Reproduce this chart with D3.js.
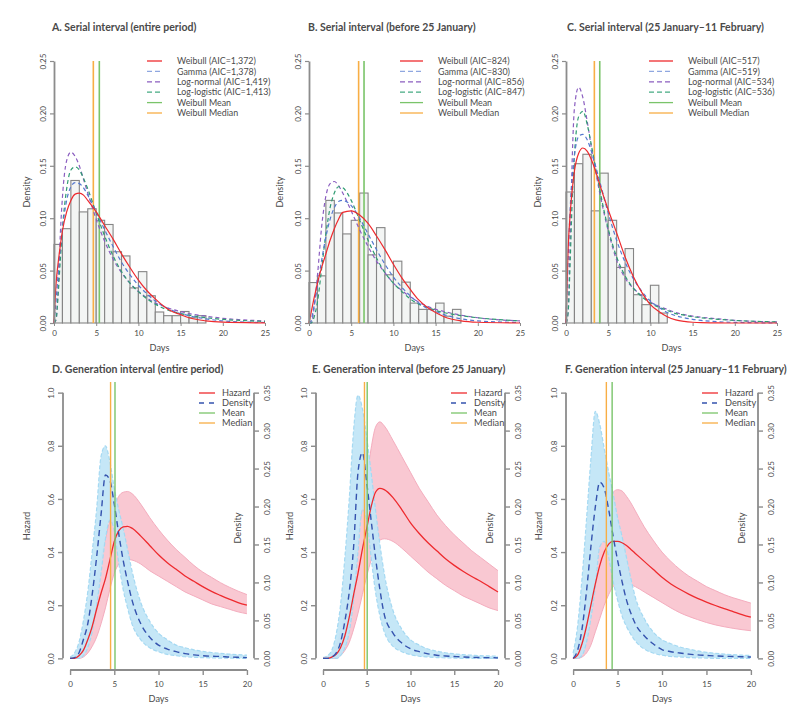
<!DOCTYPE html>
<html><head><meta charset="utf-8">
<script src="https://cdn.jsdelivr.net/npm/d3@7"></script>
<style>
body{margin:0;background:#fff}
text{font-family:Lato,"Open Sans",sans-serif;fill:#4a4a4a}
</style></head>
<body><svg id="c" width="798" height="714"></svg>
<script>
// ---------- DATA ----------
const topTitles = ["A. Serial interval (entire period)", "B. Serial interval (before 25 January)", "C. Serial interval (25 January\u201311 February)"];
const botTitles = ["D. Generation interval (entire period)", "E. Generation interval (before 25 January)", "F. Generation interval (25 January\u201311 February)"];
const topXTicks = [0,5,10,15,20,25];
const topYTicks = [0,0.05,0.10,0.15,0.20,0.25];
const botXTicks = [0,5,10,15,20];
const hazTicks = [0,0.2,0.4,0.6,0.8,1.0];
const densTicks = [0,0.05,0.10,0.15,0.20,0.25,0.30,0.35];
const distNames = ["Weibull","Gamma","Log-normal","Log-logistic"];

// histograms (1-day bins starting at 0)
const histA = [0.075,0.090,0.136,0.106,0.109,0.098,0.094,0.068,0.064,0.0335,0.049,0.026,0.0105,0.007,0.007,0.011,0.005,0.007];
const histB = [0.0386,0.045,0.117,0.105,0.085,0.098,0.124,0.065,0.091,0.046,0.059,0.039,0.019,0.013,0.013,0.019,0.0065,0.013];
const histC = [0.125,0.152,0.161,0.107,0.143,0.098,0.053,0.071,0.027,0.0175,0.036,0.0095];

const aicA = ["1,372","1,378","1,419","1,413"];
const aicB = ["824","830","856","847"];
const aicC = ["517","519","534","536"];

const topDays = [0,0.25,0.5,0.75,1,1.5,2,2.5,3,3.5,4,5,6,7,8,9,10,11,12,13,14,15,16,18,20,25];
const weibullA = [0,0.038,0.058,0.074,0.088,0.106,0.117,0.123,0.124,0.122,0.117,0.106,0.093,0.080,0.066,0.053,0.041,0.031,0.023,0.016,0.011,0.008,0.005,0.002,0.0008,0.0001];
const gammaA   = [0,0.022,0.048,0.071,0.090,0.117,0.130,0.134,0.133,0.129,0.122,0.106,0.089,0.073,0.058,0.046,0.036,0.028,0.021,0.016,0.012,0.009,0.007,0.004,0.002,0.0005];
const lnormA   = [0,0.003,0.035,0.085,0.120,0.155,0.163,0.159,0.150,0.137,0.124,0.099,0.078,0.061,0.048,0.038,0.030,0.024,0.019,0.016,0.013,0.011,0.009,0.0065,0.0045,0.002];
const llogA    = [0,0.004,0.028,0.060,0.090,0.128,0.146,0.149,0.146,0.138,0.128,0.105,0.083,0.064,0.049,0.038,0.030,0.023,0.018,0.014,0.011,0.009,0.0075,0.005,0.0035,0.0015];
const weibullB = [0,0.010,0.020,0.029,0.038,0.053,0.066,0.079,0.090,0.099,0.1055,0.107,0.103,0.095,0.083,0.070,0.056,0.043,0.032,0.022,0.015,0.010,0.006,0.002,0.0007,0];
const gammaB   = [0,0.002,0.012,0.023,0.035,0.060,0.082,0.099,0.110,0.116,0.117,0.112,0.100,0.085,0.070,0.056,0.044,0.034,0.026,0.019,0.014,0.011,0.008,0.004,0.002,0.0005];
const lnormB   = [0,0,0.008,0.025,0.045,0.092,0.121,0.133,0.135,0.131,0.124,0.107,0.089,0.073,0.059,0.048,0.038,0.031,0.025,0.020,0.016,0.013,0.011,0.0075,0.005,0.002];
const llogB    = [0,0,0.003,0.010,0.020,0.052,0.085,0.110,0.124,0.130,0.129,0.117,0.098,0.079,0.062,0.048,0.038,0.030,0.023,0.018,0.015,0.012,0.010,0.007,0.005,0.002];
const weibullC = [0,0.07,0.105,0.128,0.145,0.162,0.167,0.164,0.156,0.145,0.132,0.108,0.086,0.063,0.044,0.029,0.0175,0.011,0.006,0.003,0.0015,0.0007,0.0003,0.0001,0,0];
const gammaC   = [0,0.06,0.11,0.140,0.160,0.178,0.180,0.175,0.164,0.150,0.135,0.105,0.079,0.058,0.042,0.030,0.021,0.015,0.010,0.007,0.005,0.0035,0.0025,0.0012,0.0006,0.0001];
const lnormC   = [0,0.01,0.08,0.16,0.205,0.225,0.215,0.193,0.168,0.145,0.124,0.088,0.060,0.043,0.033,0.026,0.020,0.016,0.013,0.010,0.008,0.0065,0.0055,0.004,0.0025,0.001];
const llogC    = [0,0.01,0.06,0.12,0.160,0.197,0.202,0.190,0.170,0.148,0.127,0.090,0.063,0.045,0.033,0.025,0.019,0.015,0.012,0.009,0.0075,0.006,0.005,0.0035,0.0025,0.001];

// Weibull mean / median (days)
const siMean   = [5.37, 6.52, 4.00];
const siMedian = [4.66, 5.88, 3.36];
const giMean   = [5.08, 5.05, 4.39];
const giMedian = [4.58, 4.74, 3.74];

const botDays = [0,0.5,1,1.5,2,2.5,3,3.5,4,4.5,5,5.5,6,6.5,7,8,9,10,11,12,13,14,15,16,17,18,19,20];
const hazD   = [0,0,0.01,0.03,0.07,0.12,0.185,0.245,0.30,0.37,0.44,0.48,0.495,0.497,0.49,0.46,0.425,0.39,0.36,0.335,0.31,0.29,0.27,0.252,0.237,0.223,0.21,0.20];
const hazDhi = [0,0.005,0.04,0.09,0.15,0.22,0.30,0.38,0.45,0.52,0.57,0.61,0.625,0.628,0.62,0.58,0.53,0.485,0.445,0.41,0.38,0.35,0.325,0.305,0.285,0.268,0.253,0.24];
const hazDlo = [0,0,0,0.005,0.02,0.045,0.08,0.13,0.19,0.26,0.32,0.355,0.37,0.372,0.37,0.355,0.33,0.31,0.29,0.27,0.25,0.235,0.22,0.205,0.195,0.185,0.175,0.168];
const denD   = [0,0.001,0.007,0.0245,0.0455,0.084,0.133,0.189,0.2415,0.2345,0.203,0.1645,0.1295,0.1015,0.077,0.0455,0.028,0.0175,0.0123,0.0088,0.0063,0.0046,0.0035,0.0028,0.0025,0.0018,0.0014,0.001];
const denDhi = [0.0018,0.007,0.021,0.049,0.0875,0.14,0.196,0.266,0.28,0.259,0.224,0.196,0.1715,0.1435,0.1155,0.0735,0.049,0.0333,0.0245,0.0175,0.014,0.0112,0.0091,0.0077,0.0067,0.0056,0.0049,0.0042];
const denDlo = [0,0,0,0.0035,0.014,0.035,0.07,0.112,0.1575,0.182,0.168,0.126,0.091,0.0665,0.0455,0.0245,0.014,0.0088,0.0053,0.0035,0.0021,0.0014,0.001,0.0007,0.0004,0.0004,0,0];

const hazE   = [0,0,0.005,0.015,0.04,0.085,0.155,0.24,0.32,0.41,0.49,0.57,0.625,0.64,0.635,0.605,0.56,0.51,0.47,0.435,0.405,0.375,0.35,0.328,0.308,0.29,0.27,0.25];
const hazEhi = [0,0.003,0.02,0.05,0.10,0.17,0.26,0.36,0.46,0.57,0.68,0.79,0.87,0.89,0.875,0.82,0.76,0.70,0.64,0.59,0.54,0.50,0.465,0.435,0.405,0.38,0.355,0.33];
const hazElo = [0,0,0,0,0.01,0.03,0.06,0.11,0.17,0.24,0.31,0.37,0.42,0.445,0.45,0.44,0.415,0.385,0.355,0.325,0.30,0.275,0.255,0.235,0.22,0.205,0.19,0.18];
const denE   = [0,0,0.0018,0.007,0.021,0.049,0.0875,0.147,0.245,0.271,0.231,0.182,0.133,0.091,0.058,0.0333,0.0203,0.0126,0.0088,0.006,0.0042,0.0032,0.0025,0.0018,0.0014,0.0011,0.0009,0.0007];
const denEhi = [0.0011,0.0035,0.0105,0.0315,0.07,0.133,0.21,0.301,0.3465,0.329,0.2905,0.245,0.196,0.1505,0.112,0.063,0.0385,0.0245,0.0175,0.0123,0.0095,0.0074,0.006,0.0049,0.0042,0.0035,0.0032,0.0028];
const denElo = [0,0,0,0,0.0035,0.014,0.035,0.077,0.14,0.196,0.182,0.133,0.0875,0.056,0.035,0.0158,0.0088,0.0049,0.0028,0.0018,0.0011,0.0007,0.0004,0,0,0,0,0];

const hazF   = [0,0.012,0.055,0.12,0.2,0.28,0.35,0.40,0.43,0.44,0.44,0.435,0.425,0.41,0.395,0.365,0.335,0.305,0.28,0.26,0.242,0.226,0.212,0.199,0.187,0.176,0.165,0.155];
const hazFhi = [0,0.04,0.13,0.25,0.36,0.45,0.52,0.57,0.60,0.625,0.635,0.63,0.61,0.585,0.555,0.495,0.445,0.40,0.365,0.335,0.31,0.29,0.27,0.255,0.24,0.228,0.218,0.208];
const hazFlo = [0,0,0.005,0.02,0.05,0.1,0.15,0.2,0.24,0.27,0.28,0.285,0.283,0.277,0.27,0.25,0.23,0.21,0.19,0.172,0.158,0.146,0.135,0.126,0.119,0.113,0.108,0.104];
const denF   = [0,0.0105,0.0385,0.0875,0.147,0.1995,0.232,0.224,0.196,0.161,0.1295,0.1015,0.077,0.0595,0.0455,0.0298,0.0193,0.0116,0.0088,0.007,0.0056,0.0046,0.0039,0.0032,0.0028,0.0025,0.0021,0.0018];
const denFhi = [0.007,0.042,0.105,0.182,0.2625,0.3255,0.308,0.2765,0.245,0.217,0.1855,0.161,0.133,0.105,0.0805,0.0525,0.035,0.0245,0.0193,0.015,0.0123,0.0098,0.008,0.0067,0.0056,0.0049,0.0042,0.0039];
const denFlo = [0,0,0.0035,0.021,0.0525,0.0945,0.147,0.154,0.133,0.1015,0.077,0.056,0.042,0.0315,0.0228,0.0123,0.007,0.0042,0.0025,0.0018,0.0011,0.0007,0.0004,0,0,0,0,0];

// ---------- STYLE ----------
const FONT = "Lato,'Open Sans',sans-serif";
const TICK_FS = "8px", LAB_FS = "9.2px", TOPLEG_FS = "8.9px", BOTLEG_FS = "9.2px", TITLE_FS = "10.5px";
const C = {red:"#ee2a2e", gamma:"#5578cf", lnorm:"#8b5ec0", llog:"#2f9c72", mean:"#7ac46a", median:"#f8ae45",
  axis:"#8c8c8c", barFill:"#f3f5f4", barStroke:"#858585", pink:"#f9c8d2", pinkLine:"#f4adbe",
  blue:"#c2e6f7", blueLine:"#a5d9f2", dens:"#3553ae"};

const svg = d3.select("#c");

function legend(g, items, L, y0, step, fs){
  items.forEach((it,i)=>{
    const yy = y0 + i*step;
    g.append("line").attr("x1",L.x0).attr("x2",L.x1).attr("y1",yy).attr("y2",yy)
      .attr("stroke",it.c).attr("stroke-width",1.3).attr("stroke-dasharray",it.d);
  });
  const t = g.append("text").style("font-size",fs);
  items.forEach((it,i)=>{
    t.append("tspan").attr("x",L.tx).attr("y",y0 + i*step + 3.2).text(it.t);
  });
}

// ---------- TOP PANELS ----------
const topLayout = [
  {left:54,  title:[52,31], ylab:27,  leg:{x0:147,x1:162,tx:177}},
  {left:309, title:[308,31], ylab:280, leg:{x0:400,x1:423,tx:438}},
  {left:566, title:[567,31], ylab:538, leg:{x0:649,x1:673,tx:688}}
];
const topData = [
  {hist:histA, curves:[weibullA,gammaA,lnormA,llogA], aic:aicA},
  {hist:histB, curves:[weibullB,gammaB,lnormB,llogB], aic:aicB},
  {hist:histC, curves:[weibullC,gammaC,lnormC,llogC], aic:aicC}
];
const topW = 211, topTop = 61, topBot = 323;

topData.forEach((pd, k) => {
  const L = topLayout[k];
  const g = svg.append("g");
  const x = d3.scaleLinear().domain([0,25]).range([L.left, L.left+topW]);
  const y = d3.scaleLinear().domain([0,0.25]).range([topBot, topTop]);

  g.selectAll("rect.bar").data(pd.hist).join("rect")
    .attr("x", (d,i)=>x(i)).attr("width", x(1)-x(0))
    .attr("y", d=>y(d)).attr("height", d=>y(0)-y(d))
    .attr("fill", C.barFill).attr("stroke", C.barStroke).attr("stroke-width", 1.1);

  [[siMedian[k], C.median],[siMean[k], C.mean]].forEach(([v,col])=>{
    g.append("line").attr("x1",x(v)).attr("x2",x(v)).attr("y1",y(0)).attr("y2",y(0.25))
      .attr("stroke",col).attr("stroke-width",1.6);
  });

  const line = d3.line().x((d,i)=>x(topDays[i])).y(d=>y(d)).curve(d3.curveMonotoneX);
  const styles = [
    {c:C.red, dash:null},
    {c:C.gamma, dash:"4,3"},
    {c:C.lnorm, dash:"4,3"},
    {c:C.llog, dash:"4,3"}
  ];
  [2,3,1,0].forEach(j=>{
    g.append("path").attr("d", line(pd.curves[j])).attr("fill","none")
      .attr("stroke", styles[j].c).attr("stroke-width", 1.2)
      .attr("stroke-dasharray", styles[j].dash);
  });

  const ya = g.append("g").attr("transform",`translate(${L.left},0)`)
    .call(d3.axisLeft(y).tickValues(topYTicks).tickFormat(d3.format(".2f")).tickSize(4).tickSizeOuter(0));
  ya.select(".domain").attr("stroke",C.axis).attr("stroke-width",1.8);
  ya.selectAll(".tick line").attr("stroke",C.axis).attr("stroke-width",1.2);
  ya.selectAll(".tick text").attr("transform","rotate(-90)").attr("x",0).attr("y",-8).attr("dy",0)
    .attr("text-anchor","middle").style("font-size",TICK_FS).style("font-family",FONT).attr("fill","#4a4a4a");

  const xa = g.append("g").attr("transform",`translate(0,${topBot})`)
    .call(d3.axisBottom(x).tickValues(topXTicks).tickSize(3).tickSizeOuter(0).tickPadding(4));
  xa.select(".domain").remove();
  xa.selectAll(".tick line").attr("stroke",C.axis).attr("stroke-width",1);
  xa.selectAll(".tick text").style("font-size",TICK_FS).style("font-family",FONT).attr("fill","#4a4a4a");

  g.append("text").attr("x", (x(0)+x(25))/2).attr("y", 351).attr("text-anchor","middle").style("font-size",LAB_FS).text("Days");
  g.append("text").attr("transform",`translate(${L.ylab+3},${(topTop+topBot)/2}) rotate(-90)`).attr("text-anchor","middle").style("font-size",LAB_FS).text("Density");
  g.append("text").attr("x", L.title[0]).attr("y", L.title[1]).style("font-size",TITLE_FS).style("font-weight","bold").text(topTitles[k]);

  legend(g, [
    {t:`${distNames[0]} (AIC=${pd.aic[0]})`, c:C.red, d:null},
    {t:`${distNames[1]} (AIC=${pd.aic[1]})`, c:"#8fa7e0", d:"5,3"},
    {t:`${distNames[2]} (AIC=${pd.aic[2]})`, c:C.lnorm, d:"5,3"},
    {t:`${distNames[3]} (AIC=${pd.aic[3]})`, c:"#45ab82", d:"5,3"},
    {t:"Weibull Mean", c:C.mean, d:null},
    {t:"Weibull Median", c:C.median, d:null}
  ], L.leg, 61, 10.4, TOPLEG_FS);
});

// ---------- BOTTOM PANELS ----------
const botLayout = [
  {left:63,  w:191, title:52,  hz:27,  dn:238, leg:{x0:199,x1:215,tx:222}},
  {left:316, w:189, title:312, hz:290, dn:490, leg:{x0:451,x1:467,tx:474}},
  {left:566, w:192, title:565, hz:539, dn:742, leg:{x0:702,x1:718,tx:725}}
];
const botData = [
  {h:hazD,hhi:hazDhi,hlo:hazDlo,d:denD,dhi:denDhi,dlo:denDlo},
  {h:hazE,hhi:hazEhi,hlo:hazElo,d:denE,dhi:denEhi,dlo:denElo},
  {h:hazF,hhi:hazFhi,hlo:hazFlo,d:denF,dhi:denFhi,dlo:denFlo}
];
const bTop = 382, bBot = 669;

botData.forEach((pd,k)=>{
  const L = botLayout[k];
  const g = svg.append("g");
  const x = d3.scaleLinear().domain([-0.8,20.8]).range([L.left, L.left+L.w]);
  const yh = d3.scaleLinear().domain([-0.04,1.04]).range([bBot,bTop]);
  const yd = d3.scaleLinear().domain([-0.014,0.364]).range([bBot,bTop]);
  const X = i=>x(botDays[i]);

  const areaH = d3.area().x((d,i)=>X(i)).y0((d,i)=>yh(pd.hlo[i])).y1((d,i)=>yh(pd.hhi[i])).curve(d3.curveMonotoneX);
  const lineH = d3.line().x((d,i)=>X(i)).y(d=>yh(d)).curve(d3.curveMonotoneX);
  const areaD = d3.area().x((d,i)=>X(i)).y0((d,i)=>yd(pd.dlo[i])).y1((d,i)=>yd(pd.dhi[i])).curve(d3.curveMonotoneX);
  const lineD = d3.line().x((d,i)=>X(i)).y(d=>yd(d)).curve(d3.curveMonotoneX);

  g.append("path").attr("d", areaH(pd.h)).attr("fill", C.pink).attr("stroke","none");
  [pd.hhi, pd.hlo].forEach(a=>g.append("path").attr("d", lineH(a)).attr("fill","none").attr("stroke",C.pinkLine).attr("stroke-width",1));

  g.append("path").attr("d", areaD(pd.d)).attr("fill", C.blue).attr("fill-opacity",0.95).attr("stroke","none");
  [pd.dhi, pd.dlo].forEach(a=>g.append("path").attr("d", lineD(a)).attr("fill","none").attr("stroke",C.blueLine).attr("stroke-width",1.2).attr("stroke-dasharray","4,2"));

  g.append("path").attr("d", lineH(pd.h)).attr("fill","none").attr("stroke",C.red).attr("stroke-width",1.3);
  g.append("path").attr("d", lineD(pd.d)).attr("fill","none").attr("stroke",C.dens).attr("stroke-width",1.4).attr("stroke-dasharray","6,4");

  [[giMedian[k], C.median],[giMean[k], C.mean]].forEach(([v,col])=>{
    g.append("line").attr("x1",x(v)).attr("x2",x(v)).attr("y1",bTop).attr("y2",bBot)
      .attr("stroke",col).attr("stroke-width",1.4);
  });

  const styleAxis = (a)=>{
    a.select(".domain").attr("stroke",C.axis).attr("stroke-width",1.8);
    a.selectAll(".tick line").attr("stroke",C.axis).attr("stroke-width",1.4);
    a.selectAll(".tick text").style("font-size",TICK_FS).style("font-family",FONT).attr("fill","#4a4a4a");
  };
  const xa = g.append("g").attr("transform",`translate(0,${bBot+1})`)
    .call(d3.axisBottom(x).tickValues(botXTicks).tickSize(5).tickSizeOuter(0).tickPadding(6));
  styleAxis(xa);
  xa.select(".domain").attr("d", `M${x(0)},0H${x(20)}`);

  const la = g.append("g").attr("transform",`translate(${L.left},0)`)
    .call(d3.axisLeft(yh).tickValues(hazTicks).tickFormat(d3.format(".1f")).tickSize(5).tickSizeOuter(0));
  styleAxis(la);
  la.select(".domain").attr("d", `M0,${yh(0)}V${yh(1)}`);
  la.selectAll(".tick text").attr("transform","rotate(-90)").attr("x",0).attr("y",-9).attr("dy",0).attr("text-anchor","middle");

  const ra = g.append("g").attr("transform",`translate(${L.left+L.w},0)`)
    .call(d3.axisRight(yd).tickValues(densTicks).tickFormat(d3.format(".2f")).tickSize(5).tickSizeOuter(0));
  styleAxis(ra);
  ra.select(".domain").attr("d", `M0,${yd(0)}V${yd(0.35)}`);
  ra.selectAll(".tick text").attr("transform","rotate(-90)").attr("x",0).attr("y",16).attr("dy",0).attr("text-anchor","middle");

  g.append("text").attr("x",(x(0)+x(20))/2).attr("y",702).attr("text-anchor","middle").style("font-size",LAB_FS).text("Days");
  g.append("text").attr("transform",`translate(${L.hz+3},526) rotate(-90)`).attr("text-anchor","middle").style("font-size",LAB_FS).text("Hazard");
  g.append("text").attr("transform",`translate(${L.dn+3},528) rotate(-90)`).attr("text-anchor","middle").style("font-size",LAB_FS).text("Density");
  g.append("text").attr("x", L.title).attr("y", 373).style("font-size",TITLE_FS).style("font-weight","bold").text(botTitles[k]);

  legend(g, [
    {t:"Hazard", c:C.red, d:null},
    {t:"Density", c:C.dens, d:"5,5"},
    {t:"Mean", c:C.mean, d:null},
    {t:"Median", c:C.median, d:null}
  ], L.leg, 393, 10, BOTLEG_FS);
});
</script></body></html>
